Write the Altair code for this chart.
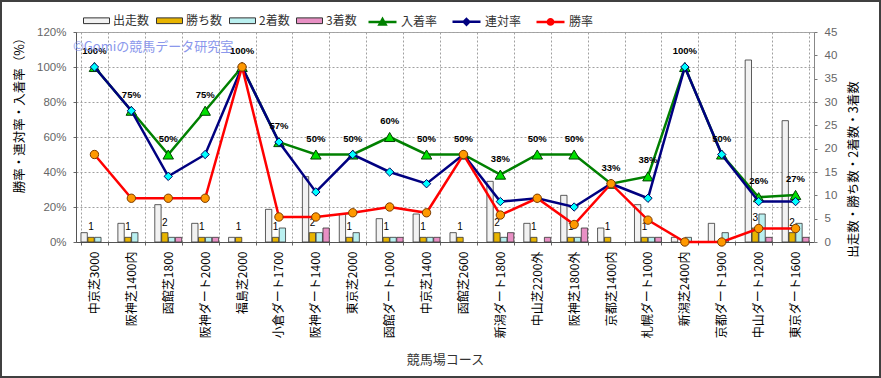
import altair as alt
import pandas as pd

# ---------------- data ----------------
courses = ["中京芝3000", "阪神芝1400内", "函館芝1800", "阪神ダート2000", "福島芝2000",
           "小倉ダート1700", "阪神ダート1400", "東京芝2000", "函館ダート1000", "中京芝1400",
           "函館芝2600", "新潟ダート1800", "中山芝2200外", "阪神芝1800外", "京都芝1400内",
           "札幌ダート1000", "新潟芝2400内", "京都ダート1900", "中山ダート1200", "東京ダート1600"]
starts  = [2, 4, 8, 4, 1, 7, 14, 6, 5, 6, 2, 13, 4, 10, 3, 8, 1, 4, 39, 26]
wins    = [1, 1, 2, 1, 1, 1, 2, 1, 1, 1, 1, 2, 1, 1, 1, 1, 0, 0, 3, 2]
seconds = [1, 2, 1, 1, 0, 3, 2, 2, 1, 1, 0, 1, 0, 1, 0, 1, 1, 2, 6, 4]
thirds  = [0, 0, 1, 1, 0, 0, 3, 0, 1, 1, 0, 2, 1, 3, 0, 1, 0, 0, 1, 1]

place_rate    = [100, 75, 50, 75, 100, 57.1, 50, 50, 60, 50, 50, 38.5, 50, 50, 33.3, 37.5, 100, 50, 25.6, 26.9]
quinella_rate = [100, 75, 37.5, 50, 100, 57.1, 28.6, 50, 40, 33.3, 50, 23.1, 25, 20, 33.3, 25, 100, 50, 23.1, 23.1]
win_rate      = [50, 25, 25, 25, 100, 14.3, 14.3, 16.7, 20, 16.7, 50, 15.4, 25, 10, 33.3, 12.5, 0, 0, 7.7, 7.7]
place_labels  = ["100%", "75%", "50%", "75%", "100%", "57%", "50%", "50%", "60%", "50%",
                 "50%", "38%", "50%", "50%", "33%", "38%", "100%", "50%", "26%", "27%"]

bar_series = ["出走数", "勝ち数", "2着数", "3着数"]
bar_colors = ["#F2F2F2", "#E8B400", "#BAF0F0", "#E890C4"]
rate_series = ["入着率", "連対率", "勝率"]
line_colors = ["#008000", "#000080", "#FF0000"]
marker_fills = ["#00E000", "#00FFFF", "#FF9900"]
count_ticks = [0, 5, 10, 15, 20, 25, 30, 35, 40, 45]
rate_ticks = [0, 20, 40, 60, 80, 100, 120]

# ---------------- tables ----------------
bar_rows = []
for i, c in enumerate(courses):
    for s, vals in zip(bar_series, [starts, wins, seconds, thirds]):
        if vals[i] > 0:
            bar_rows.append({"course": c, "series": s, "value": vals[i]})
bar_df = pd.DataFrame(bar_rows)

win_lab_df = pd.DataFrame([{"course": c, "series": "勝ち数", "value": w, "label": str(w)}
                           for c, w in zip(courses, wins) if w > 0])

rate_df = pd.DataFrame({"course": courses, "place": place_rate, "quinella": quinella_rate,
                        "win": win_rate, "plabel": place_labels})

FONT = "Noto Sans CJK JP"
NUMFONT = "Liberation Sans"

X = alt.X("course:N", sort=courses, title="競馬場コース",
          scale=alt.Scale(paddingInner=0.27, paddingOuter=0.135),
          axis=alt.Axis(labelAngle=270, labelFont=FONT, labelFontSize=12, labelColor="#000",
                        labelPadding=6, labelOverlap=False, tickBand="extent", tickSize=3,
                        tickColor="#666", domainColor="#555", grid=True, gridColor="#a0a0a0",
                        gridDash=[2, 2], titleFont=FONT, titleFontSize=13, titleFontWeight="normal",
                        titleColor="#333", titleY=117, titleBaseline="middle"))

XOFF = alt.XOffset("series:N", sort=bar_series,
                   scale=alt.Scale(domain=bar_series, paddingInner=0.08))

count_scale = alt.Scale(domain=[0, 45], nice=False)
rate_scale = alt.Scale(domain=[0, 120], nice=False)

right_axis = alt.Axis(orient="right", values=count_ticks, grid=False, tickSize=3,
                      tickColor="#777", domainColor="#888", labelFont=NUMFONT,
                      labelFontSize=11.5, labelColor="#666", labelPadding=7,
                      titleFont=FONT, titleFontSize=12.5, titleFontWeight="normal",
                      titleColor="#000", titleAngle=270, titleX=39, titleY=137,
                      titleBaseline="middle", titleAlign="center")
COUNT_TITLE = "出走数・勝ち数・2着数・3着数"

# ---------------- count bars (right axis) ----------------
bars = alt.Chart(bar_df).mark_bar(stroke="#333", strokeWidth=0.8).encode(
    x=X,
    xOffset=XOFF,
    y=alt.Y("value:Q", scale=count_scale, title=COUNT_TITLE, axis=right_axis),
    color=alt.Color("series:N", sort=bar_series,
                    scale=alt.Scale(domain=bar_series, range=bar_colors),
                    legend=alt.Legend(orient="none", legendX=7, legendY=-25, direction="horizontal",
                                      title=None, symbolType="M-1,-0.22H1V0.22H-1Z", symbolSize=676,
                                      symbolStrokeColor="#333", symbolStrokeWidth=1,
                                      labelFont=FONT, labelFontSize=12, labelColor="#333",
                                      labelOffset=3, columnPadding=4, padding=0)),
)

win_text = alt.Chart(win_lab_df).mark_text(font=NUMFONT, fontSize=10, color="#000",
                                           baseline="bottom", dy=-5).encode(
    x=X, xOffset=XOFF,
    y=alt.Y("value:Q", scale=count_scale, title=COUNT_TITLE, axis=right_axis),
    text="label:N",
)

counts = alt.layer(bars, win_text)

# ---------------- rate lines (left axis) ----------------
RATE_TITLE = "勝率・連対率・入着率（%）"
left_axis = alt.Axis(orient="left", values=rate_ticks, labelExpr="datum.value + '%'", grid=True,
                     gridColor="#a0a0a0", gridDash=[2, 2], tickSize=3, tickColor="#666",
                     domainColor="#555", labelFont=NUMFONT, labelFontSize=11.5,
                     labelColor="#666", labelPadding=7,
                     titleFont=FONT, titleFontSize=12.5, titleFontWeight="normal",
                     titleColor="#000", titleAngle=270, titleX=-57, titleY=80,
                     titleBaseline="middle", titleAlign="center")


def yrate(col):
    return alt.Y(f"{col}:Q", scale=rate_scale, title=RATE_TITLE, axis=left_axis)


base = alt.Chart(rate_df)
layers = []
specs = [("place", "#008000", "triangle-up", "#00E000", "#004000", 110),
         ("quinella", "#000080", "diamond", "#00FFFF", "#000060", 70),
         ("win", "#FF0000", "circle", "#FF9900", "#7a3a00", 70)]
for col, lc, shp, fc, sc, sz in specs:
    layers.append(base.mark_line(color=lc, strokeWidth=2.5).encode(x=X, y=yrate(col)))
    layers.append(base.mark_point(shape=shp, filled=True, fill=fc, stroke=sc, strokeWidth=1,
                                  size=sz, opacity=1).encode(x=X, y=yrate(col)))

place_text = base.mark_text(font=NUMFONT, fontSize=9.5, fontWeight="bold", color="#000",
                            baseline="middle", dy=-16).encode(
    x=X, y=yrate("place"), text="plabel:N")
layers.append(place_text)
rates = alt.layer(*layers)

# ---------------- legend for the rate series ----------------
shape_paths = ["M-1,0H1M-0.22,0.19L0,-0.2L0.22,0.19Z",
               "M-1,0H1M0,-0.2L0.2,0L0,0.2L-0.2,0Z",
               "M-1,0H1M0.19,0A0.19,0.19 0 1 1 -0.19,0A0.19,0.19 0 1 1 0.19,0Z"]
leg_kwargs = dict(orient="none", legendX=291, legendY=-26, direction="horizontal", title=None,
                  symbolSize=784, symbolStrokeWidth=2.5, labelFont=FONT, labelFontSize=12,
                  labelColor="#333", labelOffset=3, columnPadding=9, padding=0)
legend_layer = alt.Chart(pd.DataFrame({"rate": rate_series})).transform_filter("false").mark_point(
    filled=True, strokeWidth=2.5, opacity=1).encode(
    stroke=alt.Stroke("rate:N", sort=rate_series, scale=alt.Scale(domain=rate_series, range=line_colors),
                      legend=alt.Legend(**leg_kwargs)),
    fill=alt.Fill("rate:N", sort=rate_series, scale=alt.Scale(domain=rate_series, range=marker_fills),
                  legend=alt.Legend(**leg_kwargs)),
    shape=alt.Shape("rate:N", sort=rate_series, scale=alt.Scale(domain=rate_series, range=shape_paths),
                    legend=alt.Legend(**leg_kwargs)),
)

# ---------------- decorations ----------------
one = pd.DataFrame({"t": ["©Gomiの競馬データ研究室"]})
watermark = alt.Chart(one).mark_text(font=FONT, fontSize=13, color="#8593EC", opacity=0.95,
                                     align="left", baseline="middle").encode(
    x=alt.value(-3), y=alt.value(15), text="t:N")
frame = alt.Chart(one).mark_rect(filled=False, stroke="#404040", strokeWidth=2).encode(
    x=alt.value(-75), x2=alt.value(804), y=alt.value(-31), y2=alt.value(345))

chart = alt.layer(counts, rates, legend_layer, watermark, frame).resolve_scale(
    y="independent"
).properties(
    width=738, height=210, autosize="none",
    padding={"left": 76, "top": 32, "right": 67, "bottom": 136},
    background="#FFFFFF",
).configure_view(fill="#FAEFD6", stroke="#A8A8A8", strokeWidth=1)

chart.save("out.html", embed_options={"renderer": "svg", "actions": False})
